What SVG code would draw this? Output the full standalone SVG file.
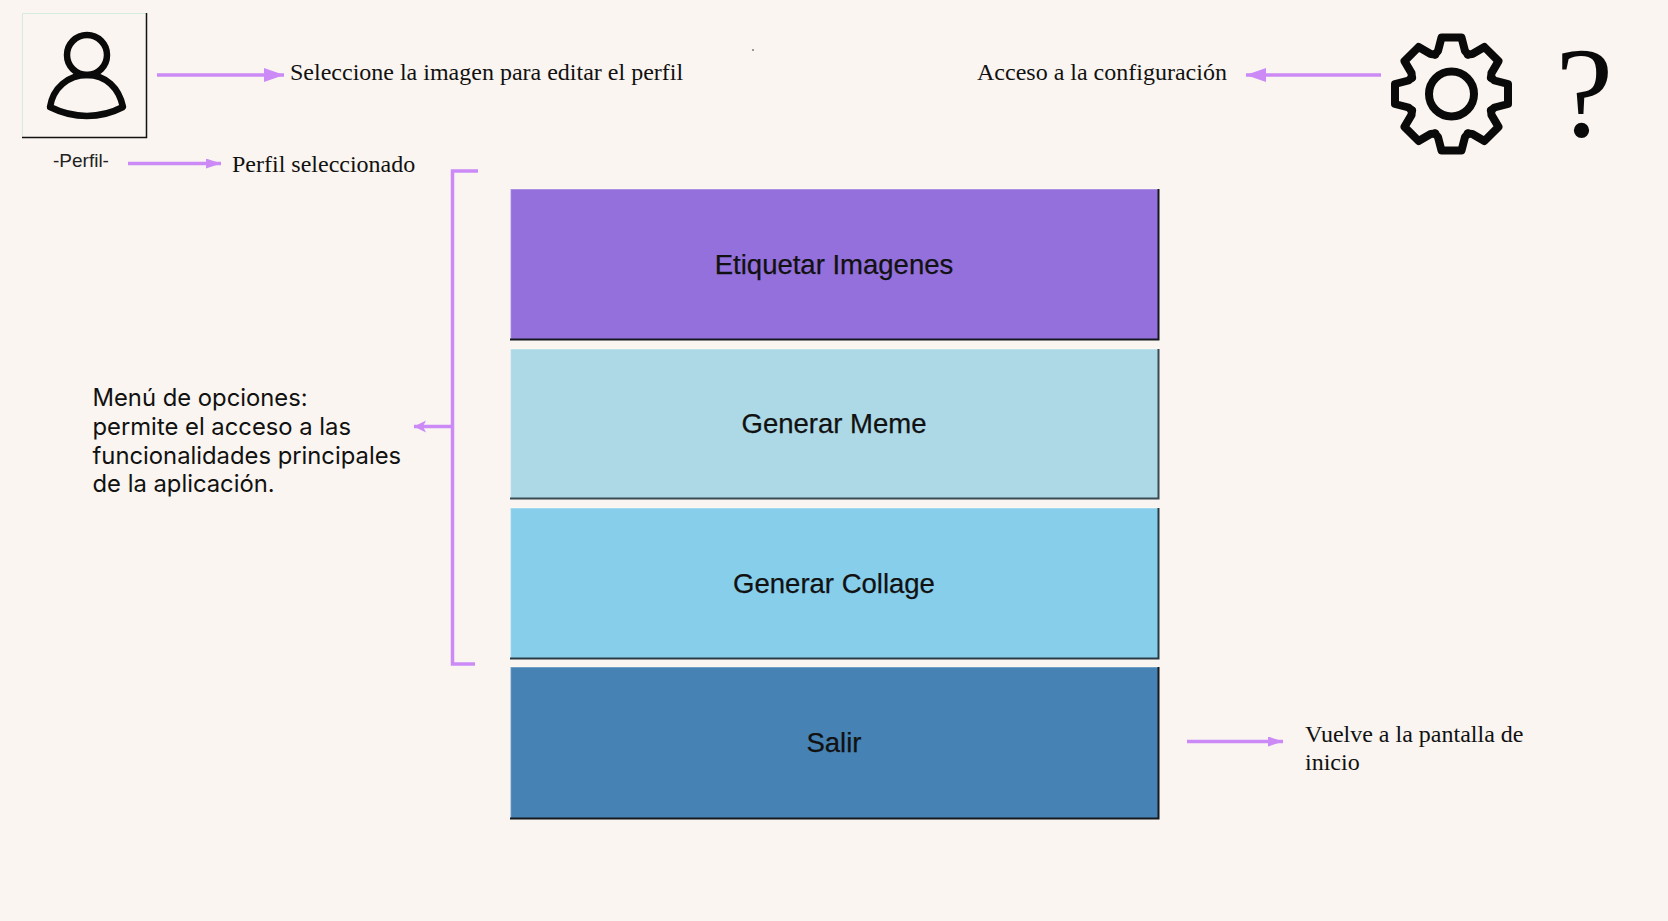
<svg xmlns="http://www.w3.org/2000/svg" width="1668" height="921" viewBox="0 0 1668 921">
<style>
.note{font-family:"Liberation Serif","Times New Roman",serif;font-size:24px;fill:#111}
.btn{font-family:"Liberation Sans",Arial,sans-serif;font-size:27.5px;fill:#111;stroke:#111;stroke-width:.25;text-anchor:middle}
.menu{font-family:Inter,"Liberation Sans",sans-serif;font-size:23.8px;fill:#111}
.conn{fill:none;stroke:#cc8af7;stroke-width:3.5}
.edge{fill:none;stroke:#14181f;stroke-width:2}
.hi{fill:none;stroke:#fff;stroke-opacity:.3;stroke-width:1.5}
.ico{fill:none;stroke:#0a0a0a;stroke-width:8;stroke-linejoin:round;stroke-linecap:round}
</style>
<defs>
<marker id="big" markerUnits="userSpaceOnUse" markerWidth="22" markerHeight="16" refX="20" refY="7" orient="auto"><path d="M0,0L20,7L0,14Z" fill="#cc8af7"/></marker>
<marker id="small" markerUnits="userSpaceOnUse" markerWidth="16" markerHeight="12" refX="15" refY="5" orient="auto"><path d="M0,0L15,5L0,10Z" fill="#cc8af7"/></marker>
<marker id="notch" markerUnits="userSpaceOnUse" markerWidth="16" markerHeight="16" refX="12" refY="7" orient="auto"><path d="M0,1L12,7L0,13L3,7Z" fill="#cc8af7"/></marker>
<path id="tooth" d="M39.5,-16.5L43,-13.5L56.5,-10L56.5,10L43,13.5L39.5,16.5"/>
</defs>
<rect width="1668" height="921" fill="#faf5f0"/>
<g id="connectors">
<path class="conn" d="M157,75H284" marker-end="url(#big)"/>
<path class="conn" d="M128,163.500H221" marker-end="url(#small)"/>
<path class="conn" d="M1381,75H1246" marker-end="url(#big)"/>
<path class="conn" d="M452,426.500H414" marker-end="url(#notch)"/>
<path class="conn" d="M1187,741.500H1283" marker-end="url(#small)"/>
<path class="conn" d="M478,171H452.500V664H475"/>
</g>
<g id="profile">
<path d="M22.500,137V13.500H146" fill="none" stroke="#d5ebdc" stroke-width="1"/>
<path d="M146.500,13V137.500H22" fill="none" stroke="#111" stroke-width="1.500"/>
<circle class="ico" cx="87" cy="55" r="20" style="stroke-width:6.500"/>
<path class="ico" style="stroke-width:6.500" d="M50,107C53,88 68,75 87,75C106,75 119,88 123,107C100,119 74,119 50,107Z"/>
<text x="53" y="167" font-family="Liberation Sans,Arial,sans-serif" font-size="19" fill="#222">-Perfil-</text>
</g>
<g id="note-perfil"><text class="note" x="290" y="79.500">Seleccione la imagen para editar el perfil</text></g>
<g id="note-seleccionado"><text class="note" x="232" y="171.500">Perfil seleccionado</text></g>
<g id="note-config"><text class="note" x="977" y="79.500">Acceso a la configuración</text></g>
<g id="gear">
<circle class="ico" cx="1451.500" cy="94" r="22.500"/>
<g transform="translate(1451.500 94)" class="ico">
<use href="#tooth" transform="rotate(-90)"/><use href="#tooth" transform="rotate(-45)"/><use href="#tooth"/><use href="#tooth" transform="rotate(45)"/><use href="#tooth" transform="rotate(90)"/><use href="#tooth" transform="rotate(135)"/><use href="#tooth" transform="rotate(180)"/><use href="#tooth" transform="rotate(225)"/>
</g>
</g>
<g id="help"><text x="1555.500" y="136" font-family="Liberation Serif,serif" font-size="130" fill="#0a0a0a">?</text></g>
<g id="menu-note">
<text class="menu" x="92.500" y="405.500">Menú de opciones:</text>
<text class="menu" x="92.500" y="434.500">permite el acceso a las</text>
<text class="menu" x="92.500" y="463.500">funcionalidades principales</text>
<text class="menu" x="92.500" y="491.500">de la aplicación.</text>
</g>
<g id="btn-etiquetar"><rect x="510.500" y="189" width="647.500" height="150" fill="#9370db"/><path class="hi" d="M510.500,339V189H1158"/><path class="edge" d="M1158.500,189V339.500H510"/><text class="btn" x="834" y="274">Etiquetar Imagenes</text></g>
<g id="btn-meme"><rect x="510.500" y="349" width="647.500" height="149" fill="#add8e6"/><path class="hi" d="M510.500,498V349H1158"/><path class="edge" style="stroke:#3a4a52" d="M1158.500,349V498.500H510"/><text class="btn" x="834" y="433">Generar Meme</text></g>
<g id="btn-collage"><rect x="510.500" y="508" width="647.500" height="150" fill="#87ceeb"/><path class="hi" d="M510.500,658V508H1158"/><path class="edge" style="stroke:#2a3a42" d="M1158.500,508V658.500H510"/><text class="btn" x="834" y="592.500">Generar Collage</text></g>
<g id="btn-salir"><rect x="510.500" y="667" width="647.500" height="151" fill="#4682b4"/><path class="hi" d="M510.500,818V667H1158"/><path class="edge" d="M1158.500,667V818.500H510"/><text class="btn" x="834" y="752">Salir</text></g>
<g id="note-salir"><text class="note" x="1305" y="742">Vuelve a la pantalla de</text><text class="note" x="1305" y="770">inicio</text></g>
<circle id="speck" cx="753" cy="50" r="0.8" fill="#222"/>
</svg>
